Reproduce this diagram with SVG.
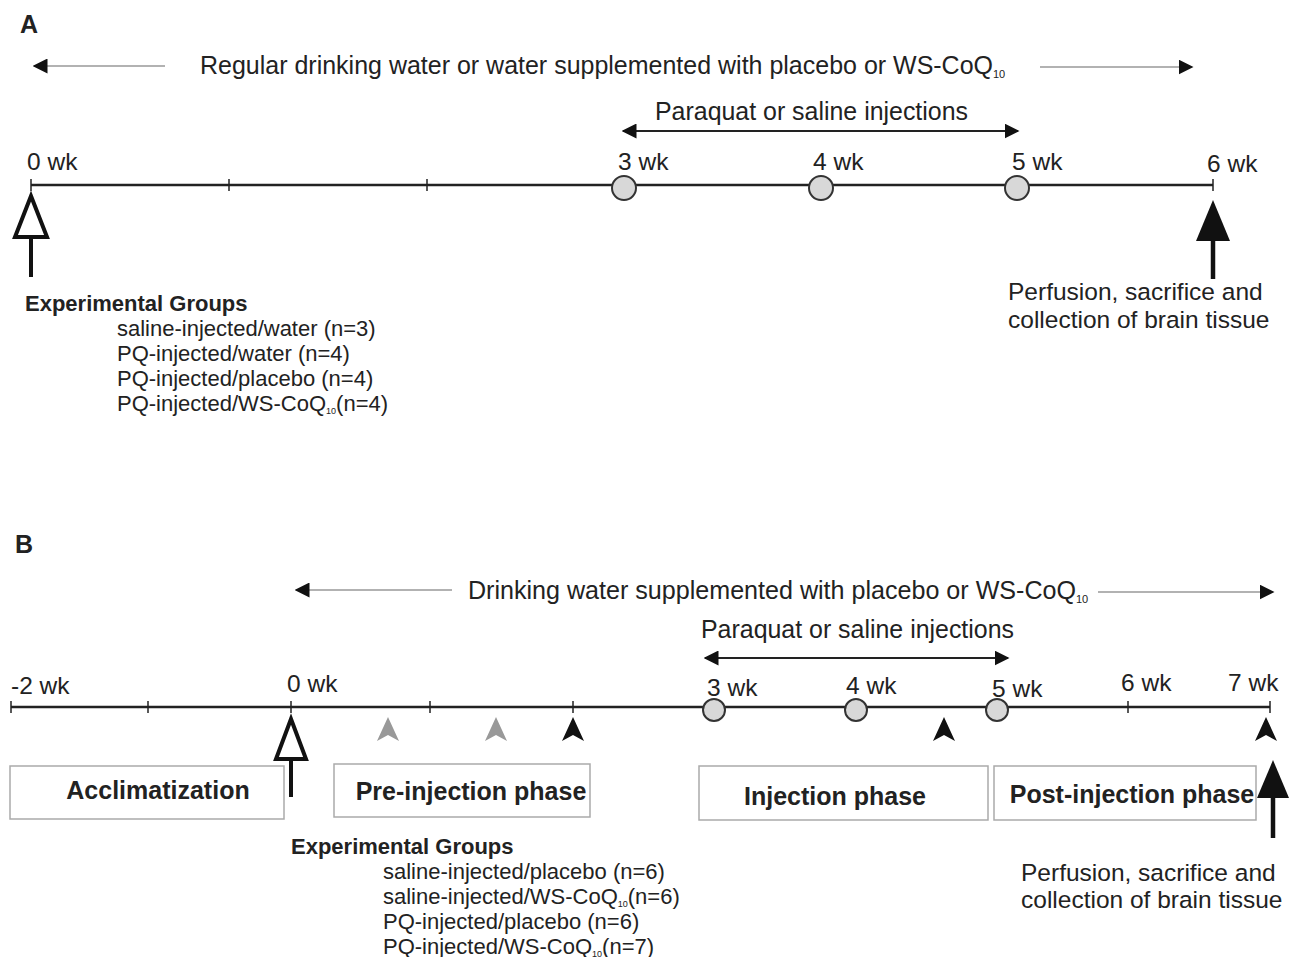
<svg xmlns="http://www.w3.org/2000/svg" width="1290" height="957" viewBox="0 0 1290 957">
<defs>
<marker id="ah" viewBox="0 0 10 10" refX="9" refY="5" markerWidth="15" markerHeight="15" markerUnits="userSpaceOnUse" orient="auto-start-reverse">
<path d="M0,0 L10,5 L0,10 Z" fill="#111"/>
</marker>
<path id="dart" d="M0,0 L11,24 L0,18 L-11,24 Z"/>
</defs>
<style>
text{font-family:"Liberation Sans",Arial,sans-serif;fill:#222}
.lbl{font-size:24.5px}
.big{font-size:25px}
.grp{font-size:22px}
.bold{font-weight:bold}
.hd{font-size:25px;font-weight:bold}
.axis{stroke:#222;stroke-width:2.5;fill:none}
.tick{stroke:#222;stroke-width:1.5}
.thin{stroke:#999;stroke-width:1.5;fill:none}
.dbl{stroke:#222;stroke-width:2;fill:none}
.circ{fill:#d8d8d8;stroke:#333;stroke-width:2}
.box{fill:#fff;stroke:#aaa;stroke-width:1.5}
.sub{font-size:11px}
</style>
<rect width="1290" height="957" fill="#fff"/>

<!-- Panel A -->
<g id="panelA">
<text x="20" y="33" class="hd">A</text>
<g id="a-water">
<line x1="34" y1="66" x2="165" y2="66" class="thin" marker-start="url(#ah)"/>
<text x="200" y="74" class="big"><tspan textLength="793" lengthAdjust="spacingAndGlyphs">Regular drinking water or water supplemented with placebo or WS-CoQ</tspan><tspan class="sub" dy="4">10</tspan></text>
<line x1="1040" y1="67" x2="1192" y2="67" class="thin" marker-end="url(#ah)"/>
</g>
<g id="a-inj">
<text x="655" y="120" class="big" textLength="313" lengthAdjust="spacingAndGlyphs">Paraquat or saline injections</text>
<line x1="623" y1="131" x2="1018" y2="131" class="dbl" marker-start="url(#ah)" marker-end="url(#ah)"/>
</g>
<g id="a-axis">
<line x1="31" y1="185" x2="1213" y2="185" class="axis"/>
<line x1="31" y1="179" x2="31" y2="191" class="tick"/>
<line x1="229" y1="179" x2="229" y2="191" class="tick"/>
<line x1="427" y1="179" x2="427" y2="191" class="tick"/>
<line x1="1213" y1="179" x2="1213" y2="191" class="tick"/>
<circle cx="624" cy="188" r="12" class="circ"/>
<circle cx="821" cy="188" r="12" class="circ"/>
<circle cx="1017" cy="188" r="12" class="circ"/>
<text x="27" y="170" class="lbl">0 wk</text>
<text x="618" y="170" class="lbl">3 wk</text>
<text x="813" y="170" class="lbl">4 wk</text>
<text x="1012" y="170" class="lbl">5 wk</text>
<text x="1207" y="172" class="lbl">6 wk</text>
</g>
<g id="a-start">
<path d="M31,196 L47,237 L15,237 Z" fill="#fff" stroke="#111" stroke-width="4" stroke-linejoin="miter"/>
<line x1="31" y1="237" x2="31" y2="277" stroke="#111" stroke-width="4"/>
</g>
<g id="a-groups">
<text x="25" y="311" class="grp bold">Experimental Groups</text>
<text x="117" y="336" class="grp">saline-injected/water (n=3)</text>
<text x="117" y="361" class="grp">PQ-injected/water (n=4)</text>
<text x="117" y="386" class="grp">PQ-injected/placebo (n=4)</text>
<text x="117" y="411" class="grp">PQ-injected/WS-CoQ<tspan dy="3" font-size="9px">10</tspan><tspan dy="-3">(n=4)</tspan></text>
</g>
<g id="a-end">
<path d="M1213,200 L1230,241 L1196,241 Z" fill="#111"/>
<line x1="1213" y1="240" x2="1213" y2="279" stroke="#111" stroke-width="4.5"/>
<text x="1008" y="300" class="lbl">Perfusion, sacrifice and</text>
<text x="1008" y="328" class="lbl">collection of brain tissue</text>
</g>
</g>

<!-- Panel B -->
<g id="panelB">
<text x="15" y="553" class="hd">B</text>
<g id="b-water">
<line x1="296" y1="590" x2="452" y2="590" class="thin" marker-start="url(#ah)"/>
<text x="468" y="599" class="big"><tspan textLength="608" lengthAdjust="spacingAndGlyphs">Drinking water supplemented with placebo or WS-CoQ</tspan><tspan class="sub" dy="4">10</tspan></text>
<line x1="1098" y1="592" x2="1273" y2="592" class="thin" marker-end="url(#ah)"/>
</g>
<g id="b-inj">
<text x="701" y="638" class="big" textLength="313" lengthAdjust="spacingAndGlyphs">Paraquat or saline injections</text>
<line x1="705" y1="658" x2="1008" y2="658" class="dbl" marker-start="url(#ah)" marker-end="url(#ah)"/>
</g>
<g id="b-axis">
<line x1="11" y1="707" x2="1270" y2="707" class="axis"/>
<line x1="11" y1="701" x2="11" y2="713" class="tick"/>
<line x1="148" y1="701" x2="148" y2="713" class="tick"/>
<line x1="291" y1="701" x2="291" y2="713" class="tick"/>
<line x1="430" y1="701" x2="430" y2="713" class="tick"/>
<line x1="573" y1="701" x2="573" y2="713" class="tick"/>
<line x1="1128" y1="701" x2="1128" y2="713" class="tick"/>
<line x1="1270" y1="701" x2="1270" y2="713" class="tick"/>
<circle cx="714" cy="710" r="11" class="circ"/>
<circle cx="856" cy="710" r="11" class="circ"/>
<circle cx="997" cy="710" r="11" class="circ"/>
<text x="11" y="694" class="lbl">-2 wk</text>
<text x="287" y="692" class="lbl">0 wk</text>
<text x="707" y="696" class="lbl">3 wk</text>
<text x="846" y="694" class="lbl">4 wk</text>
<text x="992" y="697" class="lbl">5 wk</text>
<text x="1121" y="691" class="lbl">6 wk</text>
<text x="1228" y="691" class="lbl">7 wk</text>
</g>
<g id="b-darts">
<use href="#dart" x="388" y="717" fill="#999"/>
<use href="#dart" x="496" y="717" fill="#999"/>
<use href="#dart" x="573" y="717" fill="#111"/>
<use href="#dart" x="944" y="717" fill="#111"/>
<use href="#dart" x="1266" y="717" fill="#111"/>
</g>
<g id="b-start">
<path d="M291,719 L306,759 L276,759 Z" fill="#fff" stroke="#111" stroke-width="4"/>
<line x1="291" y1="759" x2="291" y2="797" stroke="#111" stroke-width="4"/>
</g>
<g id="b-acclim">
<rect x="10" y="766" width="274" height="53" class="box"/>
<text x="158" y="799" class="hd" text-anchor="middle">Acclimatization</text>
</g>
<g id="b-pre">
<rect x="334" y="764" width="256" height="53" class="box"/>
<text x="471" y="800" class="hd" text-anchor="middle">Pre-injection phase</text>
</g>
<g id="b-injphase">
<rect x="699" y="766" width="289" height="54" class="box"/>
<text x="835" y="805" class="hd" text-anchor="middle">Injection phase</text>
</g>
<g id="b-post">
<rect x="994" y="766" width="262" height="54" class="box"/>
<text x="1132" y="803" class="hd" text-anchor="middle">Post-injection phase</text>
</g>
<g id="b-end">
<path d="M1273,760 L1289,798 L1257,798 Z" fill="#111"/>
<line x1="1273" y1="797" x2="1273" y2="838" stroke="#111" stroke-width="4.5"/>
<text x="1021" y="881" class="lbl">Perfusion, sacrifice and</text>
<text x="1021" y="908" class="lbl">collection of brain tissue</text>
</g>
<g id="b-groups">
<text x="291" y="854" class="grp bold">Experimental Groups</text>
<text x="383" y="879" class="grp">saline-injected/placebo (n=6)</text>
<text x="383" y="904" class="grp">saline-injected/WS-CoQ<tspan font-size="9px" dy="3">10</tspan><tspan dy="-3">(n=6)</tspan></text>
<text x="383" y="929" class="grp">PQ-injected/placebo (n=6)</text>
<text x="383" y="954" class="grp">PQ-injected/WS-CoQ<tspan font-size="9px" dy="3">10</tspan><tspan dy="-3">(n=7)</tspan></text>
</g>
</g>
</svg>
